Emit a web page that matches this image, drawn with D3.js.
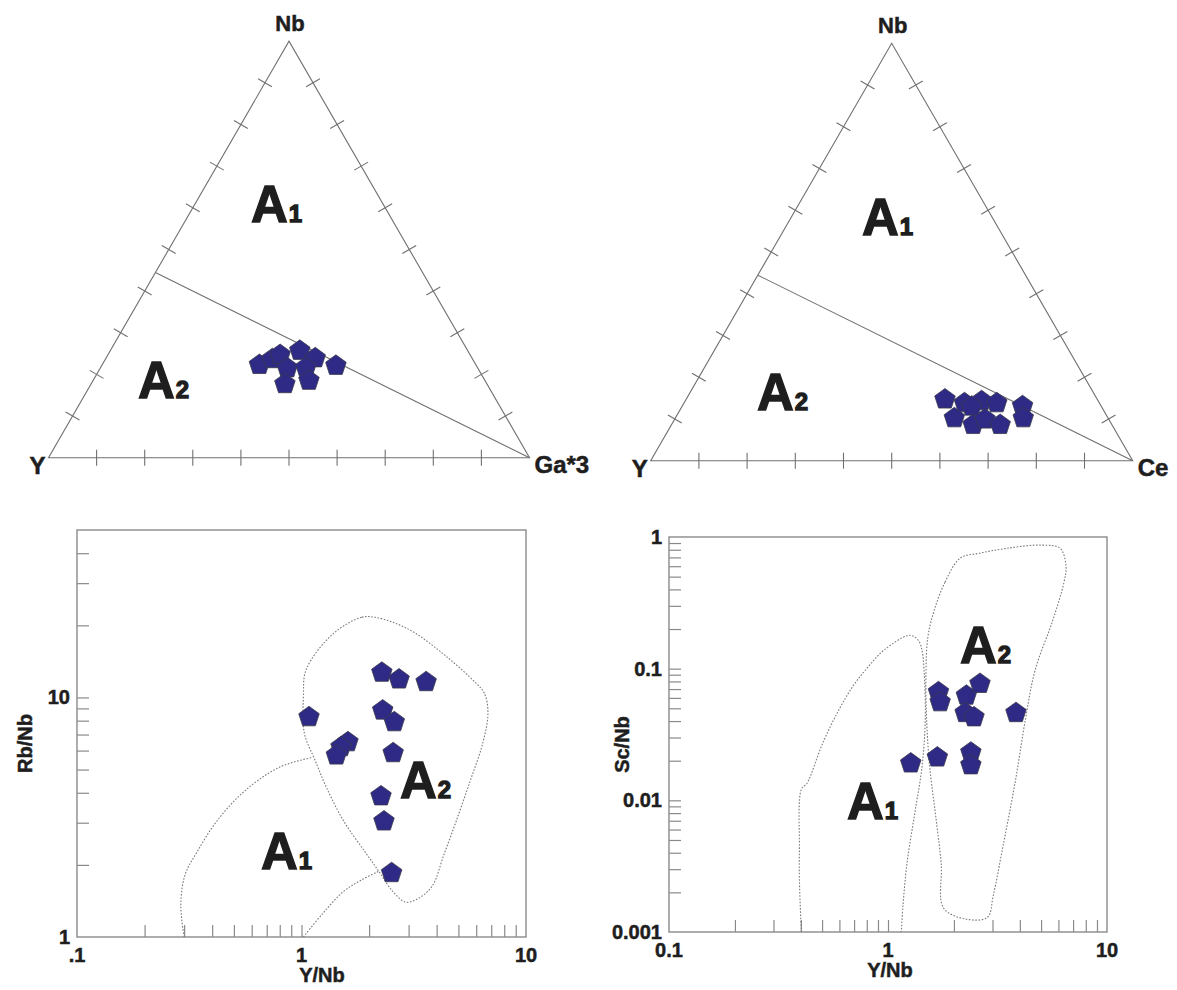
<!DOCTYPE html>
<html>
<head>
<meta charset="utf-8">
<script src="https://cdn.jsdelivr.net/npm/d3@7"></script>
<style>
  body { margin: 0; background: #fff; }
  text { font-family: "Liberation Sans", Arial, sans-serif; font-weight: bold; fill: #1e1e1e;
         stroke: #1e1e1e; stroke-width: 0.5; }
  text.big { stroke-width: 1.3; }
  .edge { stroke: #707070; stroke-width: 1.1; fill: none; }
  .field { stroke: #7a7a7a; stroke-width: 1.1; fill: none; stroke-dasharray: 1.6 1.6; }
  .frame { stroke: #8a8a8a; stroke-width: 1.4; fill: none; }
  .tick line { stroke: #8a8a8a; stroke-width: 1.2; }
  .pt { fill: #2e2a86; stroke: #3a3a4a; stroke-width: 0.8; }
</style>
</head>
<body>
<div id="chart"></div>
<script>
// ---- data ----
// ternary Nb - Y - Ga*3 (fractions)
var triGaNb = [0.223, 0.237, 0.247, 0.257, 0.239, 0.221, 0.215, 0.216, 0.177, 0.185];
var triGaGa = [0.327, 0.347, 0.358, 0.394, 0.435, 0.487, 0.389, 0.427, 0.403, 0.449];
var triGaY  = [0.450, 0.416, 0.395, 0.349, 0.326, 0.292, 0.396, 0.357, 0.420, 0.366];

// ternary Nb - Y - Ce (fractions)
var triCeNb = [0.147, 0.138, 0.143, 0.138, 0.130, 0.131, 0.102, 0.086, 0.099, 0.086, 0.102];
var triCeCe = [0.537, 0.582, 0.615, 0.649, 0.601, 0.706, 0.579, 0.626, 0.644, 0.682, 0.722];
var triCeY  = [0.316, 0.280, 0.242, 0.213, 0.269, 0.163, 0.319, 0.288, 0.257, 0.232, 0.176];

// A1 / A2 divide on the Nb-Y edge (Y/Nb ratio)
var dividerYNb = 1.25;
var ternaryTicks = [0.1, 0.2, 0.3, 0.4, 0.5, 0.6, 0.7, 0.8, 0.9];

// Y/Nb vs Rb/Nb
var rbYNb  = [1.08, 2.28, 2.72, 3.59, 2.30, 2.59, 1.61, 1.50, 1.43, 2.56, 2.26, 2.33, 2.52];
var rbRbNb = [8.28, 12.7, 11.9, 11.6, 8.83, 7.89, 6.51, 6.21, 5.73, 5.86, 3.87, 3.04, 1.85];

// Y/Nb vs Sc/Nb
var scYNb  = [1.27, 1.68, 1.70, 1.73, 2.28, 2.63, 2.25, 2.47, 3.84, 2.39, 2.39];
var scScNb = [0.0191, 0.0212, 0.0664, 0.0557, 0.0625, 0.0768, 0.0461, 0.0428, 0.0461, 0.0231, 0.0185];

// field outlines, Rb/Nb plot  [Y/Nb, Rb/Nb]
var rbFieldA2 = [[2.13,21.6],[1.85,21.6],[1.38,18.4],[1.05,13.1],[1.02,10.1],[1.03,7.08],[1.15,5.46],[1.29,4.22],
  [1.54,3.05],[1.91,2.28],[2.21,1.88],[2.55,1.55],[2.90,1.40],[3.23,1.43],[3.80,1.62],[4.31,2.21],[4.89,3.05],
  [5.65,4.50],[6.41,6.42],[6.77,8.59],[6.53,10.4],[5.97,11.5],[4.39,14.9],[3.17,18.7],[2.55,20.6]];
var rbFieldA1Left = [[0.30,1.0],[0.29,1.36],[0.303,1.82],[0.344,2.28],[0.42,3.05],[0.56,4.08],[0.80,5.12],[1.11,5.61]];
var rbFieldA1Right = [[1.02,1.0],[1.24,1.25],[1.54,1.55],[1.85,1.73],[2.21,1.88]];

// field outlines, Sc/Nb plot  [Y/Nb, Sc/Nb]
var scFieldA1 = [[0.402,0.001],[0.394,0.00248],[0.394,0.00436],[0.402,0.0121],[0.427,0.0135],[0.501,0.0267],
  [0.59,0.047],[0.693,0.074],[0.815,0.104],[0.957,0.138],[1.22,0.178],[1.29,0.178],[1.38,0.163],[1.43,0.138],
  [1.46,0.098],[1.48,0.042],[1.43,0.018],[1.32,0.00768],[1.22,0.00329],[1.17,0.00157],[1.15,0.001]];
var scFieldA2 = [[2.14,0.692],[1.82,0.453],[1.62,0.272],[1.52,0.173],[1.49,0.0927],[1.50,0.042],[1.55,0.018],
  [1.65,0.00768],[1.75,0.00329],[1.79,0.00153],[2.23,0.00126],[2.84,0.00129],[3.02,0.00187],[3.34,0.00436],
  [3.80,0.0135],[4.25,0.042],[4.70,0.098],[5.64,0.23],[6.36,0.453],[6.50,0.601],[6.11,0.82],[5.00,0.868],
  [3.48,0.82],[2.62,0.753]];

// axis ticks
var rbXTicks = [0.2,0.3,0.4,0.5,0.6,0.7,0.8,0.9,1,2,3,4,5,6,7,8,9];
var rbYTicks = [2,3,4,5,6,7,8,9,10,20,30,40];
var rbXLabels = [[0.1,".1"],[1,"1"],[10,"10"]];
var rbYLabels = [[1,"1"],[10,"10"]];
var scXTicks = rbXTicks;
var scYTicks = [0.002,0.003,0.004,0.005,0.006,0.007,0.008,0.009,0.01,0.02,0.03,0.04,0.05,0.06,0.07,0.08,0.09,
  0.1,0.2,0.3,0.4,0.5,0.6,0.7,0.8,0.9];
var scXLabels = [[0.1,"0.1"],[1,"1"],[10,"10"]];
var scYLabels = [[0.001,"0.001"],[0.01,"0.01"],[0.1,"0.1"],[1,"1"]];

// ---- drawing ----
var svg = d3.select("#chart").append("svg")
    .attr("width", 1177)
    .attr("height", 990);

var pentagon = {
  draw: function(ctx, size) {
    var r = Math.sqrt(size);
    for (var i = 0; i < 5; i++) {
      var a = -Math.PI / 2 + i * 2 * Math.PI / 5;
      if (i === 0) ctx.moveTo(r * Math.cos(a), r * Math.sin(a));
      else ctx.lineTo(r * Math.cos(a), r * Math.sin(a));
    }
    ctx.closePath();
  }
};
var sym = d3.symbol().type(pentagon).size(10.8 * 10.8);

function fieldLabel(g, x, y, digit) {
  var t = g.append("text").attr("class", "big").attr("x", x).attr("y", y);
  t.append("tspan").attr("font-size", 51).text("A");
  t.append("tspan").attr("font-size", 24).attr("dx", 1).text(digit);
}

function ternary(opt) {
  var g = svg.append("g");
  var h = Math.sqrt(3) / 2;
  var s = d3.scaleLinear().domain([0, 1]).range([0, opt.side]);
  function proj(nb, c, y) {
    var t = nb + c + y;
    nb = nb / t; c = c / t;
    return [opt.ox + s(c + nb / 2), opt.oy - s(nb) * h];
  }
  var A = proj(0, 0, 1), B = proj(0, 1, 0), C = proj(1, 0, 0);
  g.append("path").attr("class", "edge")
    .attr("d", "M" + A + "L" + B + "L" + C + "Z");

  // divider from Nb-Y edge to right corner
  var nbDiv = 1 / (1 + dividerYNb);
  var p0 = proj(nbDiv, 0, 1 - nbDiv);
  g.append("path").attr("class", "edge").attr("d", "M" + p0 + "L" + B);

  var L = 8;
  ternaryTicks.forEach(function(f) {
    var b = proj(0, f, 1 - f);
    g.append("line").attr("class", "edge")
      .attr("x1", b[0]).attr("y1", b[1] - L).attr("x2", b[0]).attr("y2", b[1] + L);
    var l = proj(f, 0, 1 - f);
    g.append("line").attr("class", "edge")
      .attr("x1", l[0] - L * h).attr("y1", l[1] - L * 0.5)
      .attr("x2", l[0] + L * h).attr("y2", l[1] + L * 0.5);
    var r = proj(f, 1 - f, 0);
    g.append("line").attr("class", "edge")
      .attr("x1", r[0] - L * h).attr("y1", r[1] + L * 0.5)
      .attr("x2", r[0] + L * h).attr("y2", r[1] - L * 0.5);
  });

  g.append("text").attr("x", C[0] + 1).attr("y", C[1] - 10).attr("text-anchor", "middle")
    .attr("font-size", 22).text("Nb");
  g.append("text").attr("x", A[0] - 3).attr("y", A[1] + 16).attr("text-anchor", "end")
    .attr("font-size", 24).text("Y");
  g.append("text").attr("x", B[0] + 5).attr("y", B[1] + 15)
    .attr("font-size", 24).text(opt.right);

  fieldLabel(g, opt.a1[0], opt.a1[1], "1");
  fieldLabel(g, opt.a2[0], opt.a2[1], "2");

  g.selectAll(".pt").data(opt.nb).enter().append("path")
    .attr("class", "pt")
    .attr("d", sym)
    .attr("transform", function(d, i) {
      return "translate(" + proj(d, opt.c[i], opt.y[i]) + ")";
    });
}

ternary({ ox: 48.5, oy: 457.7, side: 481, right: "Ga*3",
  nb: triGaNb, c: triGaGa, y: triGaY, a1: [251, 222], a2: [138, 398] });
ternary({ ox: 650.7, oy: 460.7, side: 482, right: "Ce",
  nb: triCeNb, c: triCeCe, y: triCeY, a1: [862, 235], a2: [757, 410] });

function logPlot(opt) {
  var g = svg.append("g");
  var x = d3.scaleLog().domain(opt.xDomain).range([opt.x0, opt.x1]);
  var y = d3.scaleLog().domain(opt.yDomain).range([opt.y1, opt.y0]);

  g.append("g").attr("class", "tick")
    .attr("transform", "translate(0," + opt.y1 + ")")
    .call(d3.axisBottom(x).tickValues(opt.xTicks).tickSize(-12).tickFormat(""))
    .call(function(a) { a.select(".domain").remove(); a.selectAll("text").remove(); });
  g.append("g").attr("class", "tick")
    .attr("transform", "translate(" + opt.x0 + ",0)")
    .call(d3.axisLeft(y).tickValues(opt.yTicks).tickSize(-12).tickFormat(""))
    .call(function(a) { a.select(".domain").remove(); a.selectAll("text").remove(); });
  g.selectAll(".tick line").attr("stroke", "#8a8a8a");

  g.append("rect").attr("class", "frame")
    .attr("x", opt.x0).attr("y", opt.y0)
    .attr("width", opt.x1 - opt.x0).attr("height", opt.y1 - opt.y0);

  var line = d3.line().x(function(d) { return x(d[0]); }).y(function(d) { return y(d[1]); });
  opt.fields.forEach(function(f) {
    g.append("path").attr("class", "field")
      .attr("d", line.curve(f.closed ? d3.curveCatmullRomClosed.alpha(0.5) : d3.curveCatmullRom.alpha(0.5))(f.pts));
  });

  g.selectAll(".xl").data(opt.xLabels).enter().append("text")
    .attr("x", function(d) { return x(d[0]); }).attr("y", opt.y1 + 25)
    .attr("text-anchor", "middle").attr("font-size", 20)
    .text(function(d) { return d[1]; });
  g.selectAll(".yl").data(opt.yLabels).enter().append("text")
    .attr("x", opt.x0 - 7).attr("y", function(d) { return y(d[0]) + 7; })
    .attr("text-anchor", "end").attr("font-size", 20)
    .text(function(d) { return d[1]; });

  g.append("text").attr("x", opt.xTitleX).attr("y", opt.y1 + 45)
    .attr("text-anchor", "middle").attr("font-size", 20).text("Y/Nb");
  g.append("text").attr("transform", "translate(" + opt.yTitleX + "," + ((opt.y0 + opt.y1) / 2 + 10) + ") rotate(-90)")
    .attr("text-anchor", "middle").attr("font-size", 20).text(opt.yTitle);

  fieldLabel(g, opt.a1[0], opt.a1[1], "1");
  fieldLabel(g, opt.a2[0], opt.a2[1], "2");

  g.selectAll(".pt").data(opt.xs).enter().append("path")
    .attr("class", "pt")
    .attr("d", sym)
    .attr("transform", function(d, i) {
      return "translate(" + x(d) + "," + y(opt.ys[i]) + ")";
    });
}

logPlot({ x0: 77, x1: 526, y0: 530, y1: 937,
  xDomain: [0.1, 10], yDomain: [1, 50],
  xTicks: rbXTicks, yTicks: rbYTicks, xLabels: rbXLabels, yLabels: rbYLabels,
  xTitleX: 322, yTitleX: 32, yTitle: "Rb/Nb",
  fields: [{ pts: rbFieldA2, closed: true }, { pts: rbFieldA1Left }, { pts: rbFieldA1Right }],
  a1: [261, 869], a2: [400, 798],
  xs: rbYNb, ys: rbRbNb });

logPlot({ x0: 669, x1: 1107, y0: 537, y1: 932,
  xDomain: [0.1, 10], yDomain: [0.001, 1],
  xTicks: scXTicks, yTicks: scYTicks, xLabels: scXLabels, yLabels: scYLabels,
  xTitleX: 890, yTitleX: 629, yTitle: "Sc/Nb",
  fields: [{ pts: scFieldA1 }, { pts: scFieldA2, closed: true }],
  a1: [847, 819], a2: [960, 663],
  xs: scYNb, ys: scScNb });
</script>
</body>
</html>
